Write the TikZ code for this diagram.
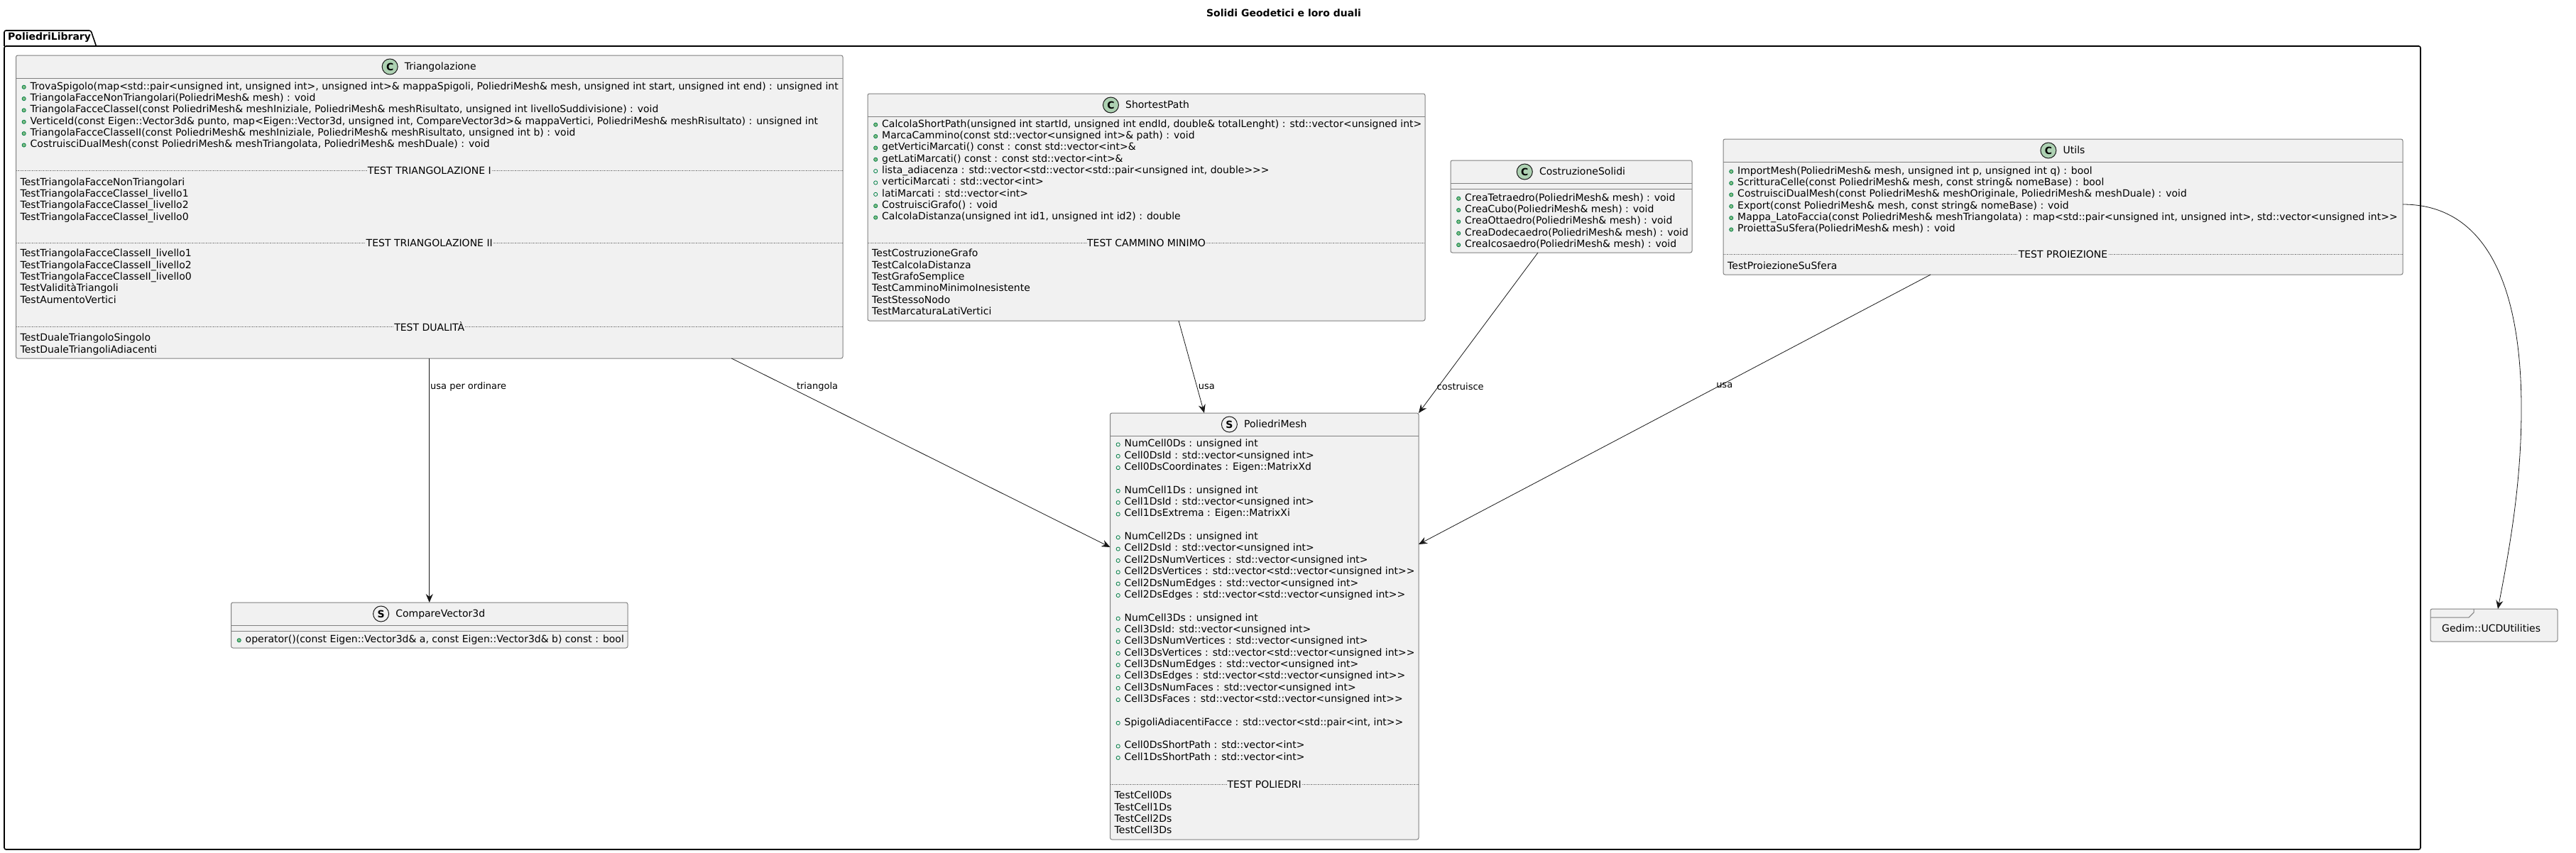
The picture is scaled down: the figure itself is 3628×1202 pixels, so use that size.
\documentclass[tikz,border=0pt]{standalone}
\usepackage{fontspec}
\usepackage{xcolor}
\usetikzlibrary{shapes,arrows.meta,positioning,calc}
\newfontfamily\umlfont{DejaVu Sans}
\definecolor{classbg}{HTML}{F1F1F1}
\definecolor{classline}{HTML}{808080}
\definecolor{spotgreen}{HTML}{ADD1B2}
\definecolor{inkline}{HTML}{181818}
\definecolor{visline}{HTML}{038048}
\definecolor{visfill}{HTML}{84BE84}
\newcommand{\opmark}{\makebox[14pt][l]{\hspace{2pt}\tikz[baseline=-3.4pt]\draw[visline,fill=visfill,line width=.8pt] (0,0) circle[radius=2.6pt];}}
\newcommand{\attrmark}{\makebox[14pt][l]{\hspace{2pt}\tikz[baseline=-3.4pt]\draw[visline,line width=.8pt] (0,0) circle[radius=2.6pt];}}
\newcommand{\classhead}[4]{
  \node[classname] (#1-name) at ([shift={(15.5,16)}]#1.north) {#4};
  \node[#2, left=9pt of #1-name] (#1-spot) {\bfseries #3};
  \draw[rule] ([shift={(0,32.3)}]#1.north west) -- ([shift={(0,32.3)}]#1.north east);
}
\newcommand{\sepline}[3]{
  \draw[sep] ([shift={(0,#2)}]#1.north west) -- ([shift={(0,#2)}]#1.north east);
  \node[septitle] (#1-sep#2) at ([shift={(0,#2)}]#1.north) {#3};
}

\begin{document}
\begin{tikzpicture}[
  x=1pt, y=-1pt,
  box/.style={draw=classline, fill=classbg, line width=1pt, rounded corners=2.5pt, inner sep=0pt, outer sep=0pt, anchor=north west},
  rule/.style={draw=classline, line width=1pt},
  sep/.style={draw=classline, line width=.8pt, dash pattern=on 1.5pt off 1pt},
  septitle/.style={fill=classbg, inner xsep=.5pt, inner ysep=1pt, font=\umlfont\fontsize{14}{16.35}\selectfont},
  classname/.style={inner sep=0pt, text height=11pt, text depth=2pt, font=\umlfont\fontsize{14}{16.35}\selectfont},
  classspot/.style={circle, draw=inkline, fill=spotgreen, line width=1pt, minimum size=22pt, inner sep=0pt, font=\umlfont\fontsize{14}{16.35}\selectfont},
  structspot/.style={circle, draw=inkline, fill=classbg, line width=1pt, minimum size=22pt, inner sep=0pt, font=\umlfont\fontsize{14}{16.35}\selectfont},
  members/.style={anchor=north west, inner sep=0pt, align=left, execute at begin node=\strut, font=\umlfont\fontsize{14}{16.35}\selectfont},
  arr/.style={-{Stealth[inset=4pt,length=12pt,width=10pt]}, draw=inkline, line width=.8pt},
  edgelabel/.style={anchor=west, inner sep=0pt, yshift=-1pt, font=\umlfont\fontsize{13}{15}\selectfont}
]
  \path[use as bounding box] (0,0) rectangle (3628,1202);
  \node[inner sep=0pt, font=\umlfont\bfseries\fontsize{14}{16}\selectfont] (title) at (1808,18) {Solidi Geodetici e loro duali};

  \node[draw=black, line width=1.6pt, rounded corners=2.5pt, inner sep=0pt, outer sep=0pt, anchor=north west, minimum width=3403pt, minimum height=1132pt] (pkg) at (6,65) {};
  \draw[black, line width=1.6pt, rounded corners=2.5pt] (pkg.north west) -- ([shift={(0,-22)}]pkg.north west) -- ([shift={(122,-22)}]pkg.north west) -- ([shift={(129.5,0)}]pkg.north west);
  \node[inner sep=0pt, anchor=west, font=\umlfont\bfseries\fontsize{14}{16}\selectfont] (pkg-name) at ([shift={(5,-12)}]pkg.north west) {PoliedriLibrary};

  \node[box, minimum width=1164.5pt, minimum height=427pt] (tri) at (22.5,78) {};
  \classhead{tri}{classspot}{C}{Triangolazione}
  \node[members] (tri-fun) at ([shift={(6,37.3)}]tri.north west) {%
    \opmark TrovaSpigolo(map<std::pair<unsigned int, unsigned int>, unsigned int>\& mappaSpigoli, PoliedriMesh\& mesh, unsigned int start, unsigned int end) : unsigned int\\
    \opmark TriangolaFacceNonTriangolari(PoliedriMesh\& mesh) : void\\
    \opmark TriangolaFacceClasseI(const PoliedriMesh\& meshIniziale, PoliedriMesh\& meshRisultato, unsigned int livelloSuddivisione) : void\\
    \opmark VerticeId(const Eigen::Vector3d\& punto, map<Eigen::Vector3d, unsigned int, CompareVector3d>\& mappaVertici, PoliedriMesh\& meshRisultato) : unsigned int\\
    \opmark TriangolaFacceClasseII(const PoliedriMesh\& meshIniziale, PoliedriMesh\& meshRisultato, unsigned int b) : void\\
    \opmark CostruisciDualMesh(const PoliedriMesh\& meshTriangolata, PoliedriMesh\& meshDuale) : void};
  \sepline{tri}{162.3}{TEST TRIANGOLAZIONE I}
  \node[members] (tri-test1) at ([shift={(6,172.3)}]tri.north west) {%
    TestTriangolaFacceNonTriangolari\\
    TestTriangolaFacceClasseI\_livello1\\
    TestTriangolaFacceClasseI\_livello2\\
    TestTriangolaFacceClasseI\_livello0};
  \sepline{tri}{264.3}{TEST TRIANGOLAZIONE II}
  \node[members] (tri-test2) at ([shift={(6,273)}]tri.north west) {%
    TestTriangolaFacceClasseII\_livello1\\
    TestTriangolaFacceClasseII\_livello2\\
    TestTriangolaFacceClasseII\_livello0\\
    TestValiditàTriangoli\\
    TestAumentoVertici};
  \sepline{tri}{382.3}{TEST DUALITÀ}
  \node[members] (tri-test3) at ([shift={(6,392)}]tri.north west) {%
    TestDualeTriangoloSingolo\\
    TestDualeTriangoliAdiacenti};

  \node[box, minimum width=785pt, minimum height=320pt] (short) at (1222,132) {};
  \classhead{short}{classspot}{C}{ShortestPath}
  \node[members] (short-fun) at ([shift={(6,36.3)}]short.north west) {%
    \opmark CalcolaShortPath(unsigned int startId, unsigned int endId, double\& totalLenght) : std::vector<unsigned int>\\
    \opmark MarcaCammino(const std::vector<unsigned int>\& path) : void\\
    \opmark getVerticiMarcati() const : const std::vector<int>\&\\
    \opmark getLatiMarcati() const : const std::vector<int>\&\\
    \attrmark lista\_adiacenza : std::vector<std::vector<std::pair<unsigned int, double>>>\\
    \attrmark verticiMarcati : std::vector<int>\\
    \attrmark latiMarcati : std::vector<int>\\
    \opmark CostruisciGrafo() : void\\
    \opmark CalcolaDistanza(unsigned int id1, unsigned int id2) : double};
  \sepline{short}{210}{TEST CAMMINO MINIMO}
  \node[members] (short-test) at ([shift={(6,219)}]short.north west) {%
    TestCostruzioneGrafo\\
    TestCalcolaDistanza\\
    TestGrafoSemplice\\
    TestCamminoMinimoInesistente\\
    TestStessoNodo\\
    TestMarcaturaLatiVertici};

  \node[box, minimum width=340pt, minimum height=130pt] (costr) at (2043,226) {};
  \classhead{costr}{classspot}{C}{CostruzioneSolidi}
  \draw[rule] ([shift={(0,40)}]costr.north west) -- ([shift={(0,40)}]costr.north east);
  \node[members] (costr-fun) at ([shift={(6,46.3)}]costr.north west) {%
    \opmark CreaTetraedro(PoliedriMesh\& mesh) : void\\
    \opmark CreaCubo(PoliedriMesh\& mesh) : void\\
    \opmark CreaOttaedro(PoliedriMesh\& mesh) : void\\
    \opmark CreaDodecaedro(PoliedriMesh\& mesh) : void\\
    \opmark CreaIcosaedro(PoliedriMesh\& mesh) : void};

  \node[box, minimum width=957pt, minimum height=191pt] (utils) at (2427,196) {};
  \classhead{utils}{classspot}{C}{Utils}
  \node[members] (utils-fun) at ([shift={(6,38.3)}]utils.north west) {%
    \opmark ImportMesh(PoliedriMesh\& mesh, unsigned int p, unsigned int q) : bool\\
    \opmark ScritturaCelle(const PoliedriMesh\& mesh, const string\& nomeBase) : bool\\
    \opmark CostruisciDualMesh(const PoliedriMesh\& meshOriginale, PoliedriMesh\& meshDuale) : void\\
    \opmark Export(const PoliedriMesh\& mesh, const string\& nomeBase) : void\\
    \opmark Mappa\_LatoFaccia(const PoliedriMesh\& meshTriangolata) : map<std::pair<unsigned int, unsigned int>, std::vector<unsigned int>>\\
    \opmark ProiettaSuSfera(PoliedriMesh\& mesh) : void};
  \sepline{utils}{162}{TEST PROIEZIONE}
  \node[members] (utils-test) at ([shift={(6,172)}]utils.north west) {%
    TestProiezioneSuSfera};

  \node[box, minimum width=434.5pt, minimum height=601pt] (mesh) at (1563.5,582) {};
  \classhead{mesh}{structspot}{S}{PoliedriMesh}
  \node[members] (mesh-attr) at ([shift={(6,37)}]mesh.north west) {%
    \attrmark NumCell0Ds : unsigned int\\
    \attrmark Cell0DsId : std::vector<unsigned int>\\
    \attrmark Cell0DsCoordinates : Eigen::MatrixXd\\[16.35pt]
    \attrmark NumCell1Ds : unsigned int\\
    \attrmark Cell1DsId : std::vector<unsigned int>\\
    \attrmark Cell1DsExtrema : Eigen::MatrixXi\\[16.35pt]
    \attrmark NumCell2Ds : unsigned int\\
    \attrmark Cell2DsId : std::vector<unsigned int>\\
    \attrmark Cell2DsNumVertices : std::vector<unsigned int>\\
    \attrmark Cell2DsVertices : std::vector<std::vector<unsigned int>>\\
    \attrmark Cell2DsNumEdges : std::vector<unsigned int>\\
    \attrmark Cell2DsEdges : std::vector<std::vector<unsigned int>>\\[16.35pt]
    \attrmark NumCell3Ds : unsigned int\\
    \attrmark Cell3DsId: std::vector<unsigned int>\\
    \attrmark Cell3DsNumVertices : std::vector<unsigned int>\\
    \attrmark Cell3DsVertices : std::vector<std::vector<unsigned int>>\\
    \attrmark Cell3DsNumEdges : std::vector<unsigned int>\\
    \attrmark Cell3DsEdges : std::vector<std::vector<unsigned int>>\\
    \attrmark Cell3DsNumFaces : std::vector<unsigned int>\\
    \attrmark Cell3DsFaces : std::vector<std::vector<unsigned int>>\\[16.35pt]
    \attrmark SpigoliAdiacentiFacce : std::vector<std::pair<int, int>>\\[16.35pt]
    \attrmark Cell0DsShortPath : std::vector<int>\\
    \attrmark Cell1DsShortPath : std::vector<int>};
  \sepline{mesh}{523}{TEST POLIEDRI}
  \node[members] (mesh-test) at ([shift={(6,533)}]mesh.north west) {%
    TestCell0Ds\\
    TestCell1Ds\\
    TestCell2Ds\\
    TestCell3Ds};

  \node[box, minimum width=558.5pt, minimum height=64pt] (cmp) at (325.5,849) {};
  \classhead{cmp}{structspot}{S}{CompareVector3d}
  \draw[rule] ([shift={(0,40)}]cmp.north west) -- ([shift={(0,40)}]cmp.north east);
  \node[members] (cmp-fun) at ([shift={(6,45)}]cmp.north west) {%
    \opmark operator()(const Eigen::Vector3d\& a, const Eigen::Vector3d\& b) const : bool};

  \node[box, minimum width=179pt, minimum height=46pt] (gedim) at (3423,858) {};
  \draw[rule] ([shift={(61,0)}]gedim.north west) -- ([shift={(61,5)}]gedim.north west) -- ([shift={(54,12)}]gedim.north west) -- ([shift={(0,12)}]gedim.north west);
  \node[classname, anchor=west] (gedim-name) at ([shift={(16,28)}]gedim.north west) {Gedim::UCDUtilities};

  \draw[arr] (tri.south) -- node[edgelabel, pos=.113, xshift=1pt]{usa per ordinare} (cmp.north);
  \draw[arr] ([xshift=425.5pt]tri.south) -- node[edgelabel, pos=.147, xshift=13pt]{triangola} ([shift={(0,189)}]mesh.north west);
  \draw[arr] ([xshift=45.5pt]short.south) -- node[edgelabel, pos=.708, xshift=2pt]{usa} ([xshift=-84.75pt]mesh.north);
  \draw[arr] ([xshift=-47pt]costr.south) -- node[edgelabel, pos=.832, xshift=-3pt]{costruisce} (mesh.north east);
  \draw[arr] ([xshift=-186.5pt]utils.south) -- node[edgelabel, pos=.408, xshift=-8pt]{usa} ([shift={(0,185)}]mesh.north east);
  \draw[arr] ([shift={(0,92)}]utils.north east) .. controls ([shift={(116,92)}]utils.north east) and (3551,400) .. (3551,576) .. controls (3551,680) and (3535,770) .. ([xshift=5.5pt]gedim.north);
\end{tikzpicture}
\end{document}
